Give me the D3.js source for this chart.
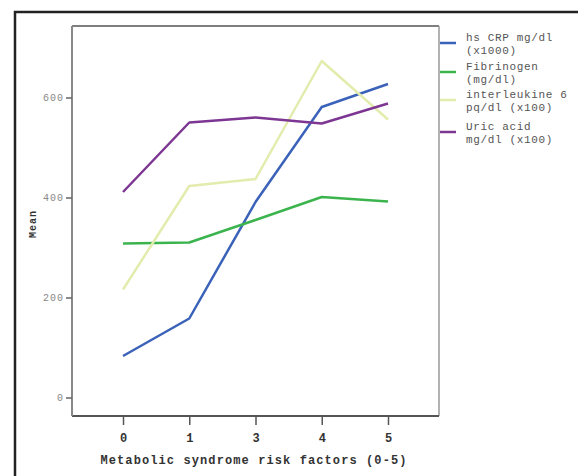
<!DOCTYPE html>
<html>
<head>
<meta charset="utf-8">
<script src="https://cdn.jsdelivr.net/npm/d3@7"></script>
<style>
  html, body { margin: 0; padding: 0; background: #fff; }
  svg { display: block; }
  text { font-family: "Courier New", "Liberation Mono", "DejaVu Sans Mono", monospace; }
</style>
</head>
<body>
<svg id="chart" width="578" height="476"></svg>
<script>
const categories = ["0", "1", "3", "4", "5"];
const yTicks = [0, 200, 400, 600];
const seriesNames = [
  ["hs CRP mg/dl", "(x1000)"],
  ["Fibrinogen", "(mg/dl)"],
  ["interleukine 6", "pq/dl (x100)"],
  ["Uric acid", "mg/dl (x100)"]
];
const hsCRP = [83, 158, 391, 581, 627];
const fibrinogen = [308, 310, 355, 401, 392];
const interleukine6 = [216, 423, 437, 673, 556];
const uricAcid = [411, 550, 560, 548, 588];
const seriesColors = ["#3b62b9", "#3cb44e", "#e3ecad", "#7d3793"];
const xTitle = "Metabolic syndrome risk factors (0-5)";
const yTitle = "Mean";

const seriesValues = [hsCRP, fibrinogen, interleukine6, uricAcid];

const svg = d3.select("#chart");

// outer frame
svg.append("rect")
  .attr("x", 15).attr("y", 12)
  .attr("width", 600).attr("height", 500)
  .attr("fill", "none").attr("stroke", "#222").attr("stroke-width", 2.5);

const plot = { left: 72, right: 439, top: 26, bottom: 416 };

const x = d3.scalePoint()
  .domain(categories)
  .range([plot.left, plot.right])
  .padding(0.77);

const y = d3.scaleLinear()
  .domain([-37, 743])
  .range([plot.bottom, plot.top]);

// plot box
svg.append("line").attr("x1", plot.left).attr("x2", plot.right)
  .attr("y1", plot.top).attr("y2", plot.top)
  .attr("stroke", "#555").attr("stroke-width", 1.5);
svg.append("line").attr("x1", plot.right).attr("x2", plot.right)
  .attr("y1", plot.top).attr("y2", plot.bottom)
  .attr("stroke", "#999").attr("stroke-width", 1.5);

// axes
const xAxis = svg.append("g")
  .attr("transform", `translate(0,${plot.bottom})`)
  .call(d3.axisBottom(x).tickSize(9).tickPadding(8));
const yAxis = svg.append("g")
  .attr("transform", `translate(${plot.left},0)`)
  .call(d3.axisLeft(y).tickValues(yTicks).tickSize(6).tickPadding(2));

xAxis.select(".domain").attr("stroke", "#555").attr("stroke-width", 2)
  .attr("d", `M${plot.left},0H${plot.right}`);
yAxis.select(".domain").attr("stroke", "#888").attr("stroke-width", 2)
  .attr("d", `M0,${plot.top}V${plot.bottom}`);
xAxis.selectAll(".tick line").attr("stroke", "#555").attr("stroke-width", 1.5);
yAxis.selectAll(".tick line").attr("stroke", "#666").attr("stroke-width", 1.5);
xAxis.selectAll(".tick text")
  .attr("fill", "#333").attr("font-size", 12).attr("font-weight", "bold")
  .style("font-family", "'Courier New', 'Liberation Mono', monospace");
yAxis.selectAll(".tick text")
  .attr("fill", "#888").attr("font-size", 10).attr("letter-spacing", 1)
  .style("font-family", "'Courier New', 'Liberation Mono', monospace");

// axis titles
svg.append("text")
  .attr("x", 254).attr("y", 464)
  .attr("text-anchor", "middle")
  .attr("font-size", 12).attr("letter-spacing", 1.1)
  .attr("font-weight", "bold").attr("fill", "#333")
  .text(xTitle);
svg.append("text")
  .attr("transform", "translate(36,224) rotate(-90)")
  .attr("text-anchor", "middle")
  .attr("font-size", 10).attr("letter-spacing", 1)
  .attr("font-weight", "bold").attr("fill", "#333")
  .text(yTitle);

// lines
const line = d3.line()
  .x((d, i) => x(categories[i]))
  .y(d => y(d));

seriesValues.forEach((vals, i) => {
  svg.append("path")
    .datum(vals)
    .attr("d", line)
    .attr("fill", "none")
    .attr("stroke", seriesColors[i])
    .attr("stroke-width", 2.5)
    .attr("stroke-linejoin", "round");
});

// legend
const legendY = [43, 72, 100, 132];
seriesNames.forEach((lines, i) => {
  const g = svg.append("g").attr("transform", `translate(440,${legendY[i]})`);
  g.append("line").attr("x1", 0).attr("x2", 16).attr("y1", 0).attr("y2", 0)
    .attr("stroke", seriesColors[i]).attr("stroke-width", 2.5);
  lines.forEach((t, j) => {
    g.append("text")
      .attr("x", 26).attr("y", -2 + j * 12.5)
      .attr("font-size", 11).attr("letter-spacing", 0.65)
      .attr("fill", "#555")
      .text(t);
  });
});
</script>
</body>
</html>
